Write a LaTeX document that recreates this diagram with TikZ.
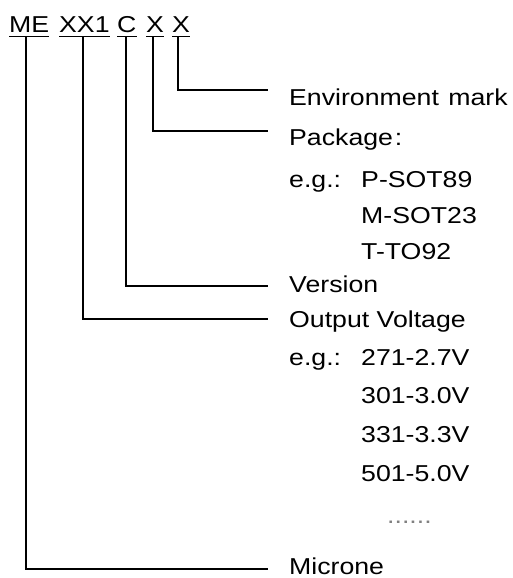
\documentclass[tikz,border=0pt]{standalone}
\usepackage{fontspec}
\setmainfont{Liberation Sans}[FakeStretch=1.16]
\begin{document}
\begin{tikzpicture}[x=1pt,y=-1pt,
  lab/.style={anchor=base west, inner sep=0pt, font=\fontsize{23}{27}\selectfont},
  conn/.style={line width=1.9pt},
  uline/.style={line width=1pt}]
\useasboundingbox (0,0) rectangle (513,578);
% part number
\node[lab] (me)  at (9,33)   {ME};
\node[lab] (xx1) at (59,33)  {XX1};
\node[lab] (c)   at (117,33) {C};
\node[lab] (xa)  at (146,33) {X};
\node[lab] (xb)  at (172,33) {X};
\foreach \n in {me,xx1,c,xa,xb}
  \draw[uline] ([yshift=-4pt]\n.base west) -- ([yshift=-4pt]\n.base east);
% labels
\node[lab] (env) at (289,105) {Environment\kern2pt\ mark};
\node[lab] (pkg) at (289,145) {Package\kern2pt:};
\node[lab] (eg1) at (289,187) {e.g.:};
\node[lab] (p1)  at (361,187) {P-SOT89};
\node[lab] (p2)  at (361,223) {M-SOT23};
\node[lab] (p3)  at (361,259) {T-TO92};
\node[lab] (ver) at (289,292) {Version};
\node[lab] (out) at (289,327) {Output Voltage};
\node[lab] (eg2) at (289,365) {e.g.:};
\node[lab] (v1)  at (361,365) {271-2.7V};
\node[lab] (v2)  at (361,403) {301-3.0V};
\node[lab] (v3)  at (361,442) {331-3.3V};
\node[lab] (v4)  at (361,481) {501-5.0V};
\node[lab, text=gray] (dots) at (387,523) {......};
\node[lab] (mic) at (289,574) {Microne};
% connector ends
\coordinate (eEnv) at (268,90);
\coordinate (ePkg) at (268,131);
\coordinate (eVer) at (268,286);
\coordinate (eOut) at (268,319);
\coordinate (eMic) at (268,569);
% connectors
\draw[conn] ([xshift=-3pt,yshift=-4pt]xb.base) |- (eEnv);
\draw[conn] ([xshift=-2pt,yshift=-4pt]xa.base) |- (ePkg);
\draw[conn] ([xshift=-0.5pt,yshift=-4pt]c.base) |- (eVer);
\draw[conn] ([xshift=-1pt,yshift=-4pt]xx1.base) |- (eOut);
\draw[conn] ([xshift=-3pt,yshift=-4pt]me.base) |- (eMic);
\end{tikzpicture}
\end{document}
